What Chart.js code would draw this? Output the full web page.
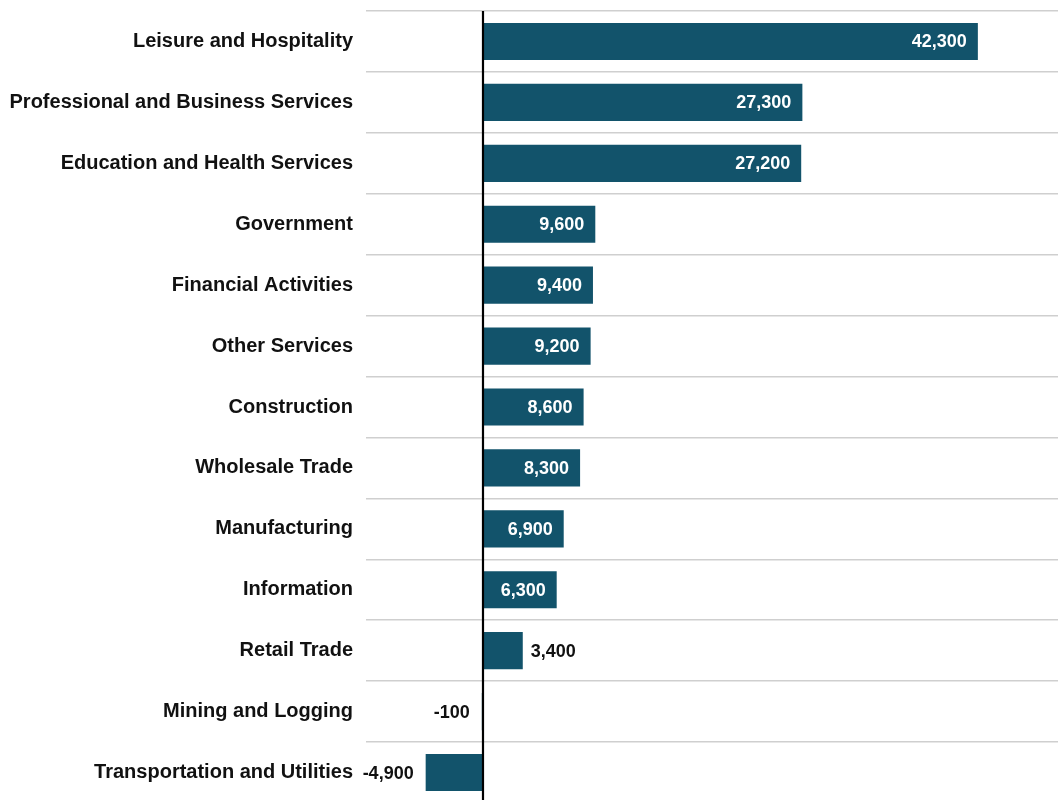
<!DOCTYPE html>
<html>
<head>
<meta charset="utf-8">
<script src="https://cdn.jsdelivr.net/npm/chart.js@4"></script>
<style>
  html, body { margin: 0; padding: 0; background: #fff; overflow: hidden; }
  #wrap { width: 1058px; height: 804px; }
</style>
</head>
<body>
<div id="wrap"><canvas id="jobsChart"></canvas></div>
<script>
var categories = ['Leisure and Hospitality', 'Professional and Business Services', 'Education and Health Services',
  'Government', 'Financial Activities', 'Other Services', 'Construction', 'Wholesale Trade',
  'Manufacturing', 'Information', 'Retail Trade', 'Mining and Logging', 'Transportation and Utilities'];
var jobChange = [42300, 27300, 27200, 9600, 9400, 9200, 8600, 8300, 6900, 6300, 3400, -100, -4900];

var barColor = '#12536b';

// value labels: inside the bar when it is wide enough, outside otherwise
// plus the black zero line on top of the bars
var valueLabels = {
  id: 'valueLabels',
  afterDatasetsDraw: function(chart) {
    var ctx = chart.ctx;
    var area = chart.chartArea;
    var x0 = chart.scales.x.getPixelForValue(0);
    ctx.save();
    ctx.strokeStyle = '#000000';
    ctx.lineWidth = 2.2;
    ctx.beginPath();
    ctx.moveTo(x0, area.top);
    ctx.lineTo(x0, area.bottom);
    ctx.stroke();

    var meta = chart.getDatasetMeta(0);
    ctx.font = 'bold 18px "Liberation Sans", Arial, sans-serif';
    ctx.textBaseline = 'middle';
    meta.data.forEach(function(bar, i) {
      var v = jobChange[i];
      var txt = v.toLocaleString('en-US');
      if (v >= 5000) {
        ctx.fillStyle = '#ffffff';
        ctx.textAlign = 'right';
        ctx.fillText(txt, bar.x - 11, bar.y + 1);
      } else if (v >= 0) {
        ctx.fillStyle = '#111111';
        ctx.textAlign = 'left';
        ctx.fillText(txt, bar.x + 8, bar.y + 1);
      } else {
        ctx.fillStyle = '#111111';
        ctx.textAlign = 'right';
        ctx.fillText(txt, bar.x - 12, bar.y + 1);
      }
    });
    ctx.restore();
  }
};

var ctx = document.getElementById('jobsChart').getContext('2d');
var myChart = new Chart(ctx, {
  type: 'bar',
  data: {
    labels: categories,
    datasets: [{
      data: jobChange,
      backgroundColor: barColor,
      borderWidth: 0,
      categoryPercentage: 1,
      barPercentage: 0.61
    }]
  },
  plugins: [valueLabels],
  options: {
    indexAxis: 'y',
    responsive: true,
    maintainAspectRatio: false,
    animation: false,
    layout: { padding: { top: 11, bottom: 1, right: 0, left: 0 } },
    plugins: {
      legend: { display: false },
      tooltip: { enabled: false }
    },
    scales: {
      x: {
        display: false,
        min: -10000,
        max: 49150
      },
      y: {
        afterFit: function(scale) {
          scale.width = 366;
          scale.paddingTop = 0;
          scale.paddingBottom = 0;
        },
        border: { display: false },
        grid: {
          offset: true,
          drawTicks: false,
          color: '#cfcfcf',
          lineWidth: 1.5
        },
        ticks: {
          padding: 13,
          color: '#111111',
          font: { family: '"Liberation Sans", Arial, sans-serif', size: 20, weight: 'bold' }
        }
      }
    }
  }
});
</script>
</body>
</html>
